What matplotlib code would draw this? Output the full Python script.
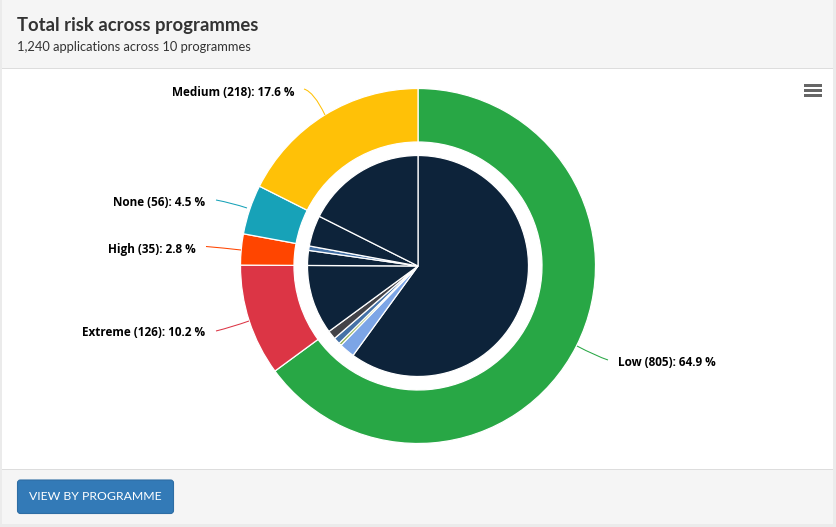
import matplotlib
matplotlib.use("Agg")
import matplotlib.pyplot as plt
from matplotlib.patches import Rectangle, FancyBboxPatch, PathPatch
from matplotlib.path import Path

W, H = 837, 527
title = "Total risk across programmes"
subtitle = "1,240 applications across 10 programmes"
button = "VIEW BY PROGRAMME"

risk_names = ["Low", "Extreme", "High", "None", "Medium"]
risk_counts = [805, 126, 35, 56, 218]
risk_pct = [64.9, 10.2, 2.8, 4.5, 17.6]
risk_colors = ["#28a745", "#dc3545", "#ff4500", "#17a2b8", "#ffc107"]

programme_counts = [744, 28, 5, 12, 16, 126, 27, 8, 56, 218]
programme_colors = ["#0d233a", "#7ca5e6", "#90b050", "#4572a7", "#434348",
                    "#0d233a", "#0d233a", "#4572a7", "#0d233a", "#0d233a"]

# label anchor (x, y, ha) and connector control points, in pixels from top-left
label_pos = [(618, 362, "left"), (205.5, 333, "right"), (195.5, 249, "right"),
             (205.5, 202.5, "right"), (295, 92, "right")]
connectors = [[(577, 346), (596, 356), (608, 360)],
              [(249, 321), (232, 327), (216, 331)],
              [(241, 250), (224, 248), (206, 246.5)],
              [(247, 208), (232, 203), (216, 200)],
              [(325, 115), (314, 92), (304, 89)]]

def Y(y):
    return H - y

fig = plt.figure(figsize=(W / 100, H / 100), dpi=100, facecolor="#ececec")
ax = fig.add_axes([0, 0, 1, 1])

CX, CY = 418, 266
ax.pie(risk_counts, colors=risk_colors, startangle=90, counterclock=False,
       center=(CX, Y(CY)), radius=177.5,
       wedgeprops=dict(width=53.5, edgecolor="white", linewidth=0.9, zorder=3))
ax.pie(programme_counts, colors=programme_colors, startangle=90, counterclock=False,
       center=(CX, Y(CY)), radius=110.5,
       wedgeprops=dict(edgecolor="white", linewidth=0.9, zorder=3))
ax.set_xlim(0, W)
ax.set_ylim(0, H)
ax.set_aspect("equal")
ax.axis("off")

def rect(x0, y0, x1, y1, color, z=1):
    ax.add_patch(Rectangle((x0, Y(y1)), x1 - x0, y1 - y0, facecolor=color,
                           edgecolor="none", zorder=z))

rect(0, 0, W, H, "#ebebeb", 0)
rect(2, 0, 833, 524, "#ffffff")
rect(2, 0, 833, 68, "#f5f5f5")
rect(2, 68, 833, 69, "#dddddd")
rect(2, 469, 833, 524, "#f5f5f5")
rect(2, 469, 833, 470, "#dddddd")

sans = "Lato"
ax.text(17, Y(25), title, fontsize=13.35, fontweight="bold", color="#333333",
        family=sans, va="center", ha="left")
ax.text(17, Y(47), subtitle, fontsize=9.3, color="#333333", family=sans,
        va="center", ha="left")

for name, n, p, (x, y, ha), pts, c in zip(risk_names, risk_counts, risk_pct,
                                          label_pos, connectors, risk_colors):
    ax.text(x, Y(y), f"{name} ({n}): {p} %", fontsize=8.45, fontweight="bold",
            color="black", family="Open Sans", va="center", ha=ha, zorder=5)
    verts = [(a, Y(b)) for a, b in pts]
    ax.add_patch(PathPatch(Path(verts, [Path.MOVETO, Path.CURVE3, Path.CURVE3]),
                           facecolor="none", edgecolor=c, linewidth=0.75, zorder=5))

# context menu icon
for yy in (85.3, 90.3, 95.3):
    rect(804.5, yy - 1.3, 821.7, yy + 1.3, "#666666", 5)

ax.add_patch(FancyBboxPatch((19.5, Y(511.5)), 152, 29.5, boxstyle="round,pad=2,rounding_size=3",
                            facecolor="#337ab7", edgecolor="#2e6da4", linewidth=0.8, zorder=4))
ax.text(95, Y(497), button, fontsize=8.8, color="white", family=sans,
        va="center", ha="center", zorder=5)

fig.savefig("out.png", dpi=100, facecolor=fig.get_facecolor())
